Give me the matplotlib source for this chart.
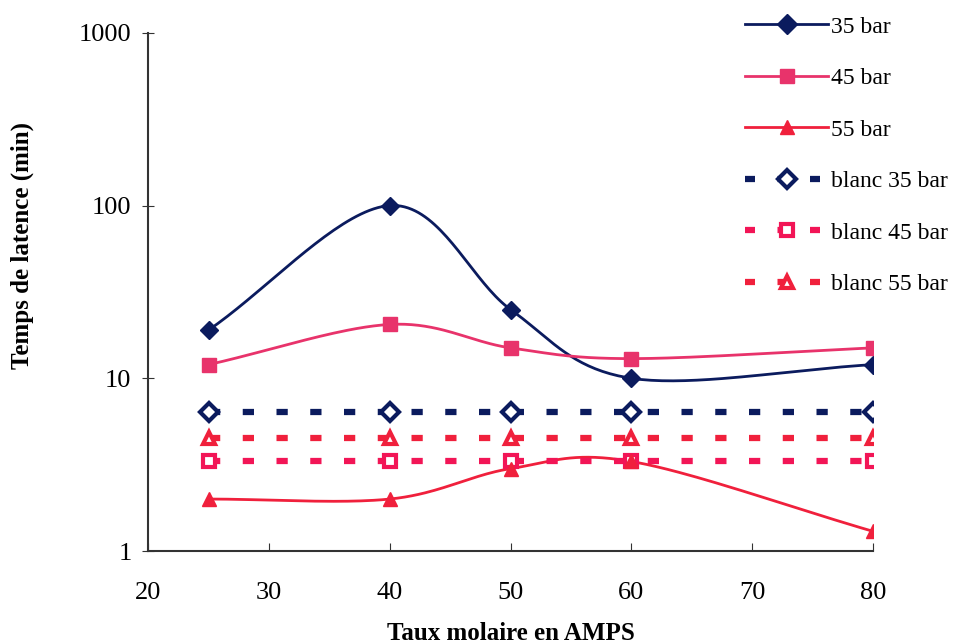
import numpy as np
import matplotlib
matplotlib.use('Agg')
import matplotlib.pyplot as plt
from matplotlib.ticker import FixedLocator, FixedFormatter, NullLocator

plt.rcParams['font.family'] = ['Liberation Serif', 'DejaVu Serif']

x = [25, 40, 50, 60, 80]
bar35 = [19, 100, 25, 10, 12]
bar45 = [12, 20.5, 15, 13, 15]
bar55 = [2.0, 2.0, 3.0, 3.3, 1.3]
blanc35 = [6.4, 6.4, 6.4, 6.4, 6.4]
blanc45 = [3.3, 3.3, 3.3, 3.3, 3.3]
blanc55 = [4.5, 4.5, 4.5, 4.5, 4.5]

yticks = [1, 10, 100, 1000]
ytick_labels = ['1', '10', '100', '1000']
xticks = [20, 30, 40, 50, 60, 70, 80]

navy = '#0b1b5e'
pink = '#e8336b'
red = '#f0203c'
pink2 = '#f21556'


def smooth(xs, ys, n=40):
    # Catmull-Rom in roughly screen-scaled (x, log y) space, like Excel smoothed lines
    sx = 12.08
    sy = 172.7
    P = np.column_stack([np.array(xs, float) * sx, np.log10(ys) * sy])
    P = np.vstack([2 * P[0] - P[1], P, 2 * P[-1] - P[-2]])
    out = []
    for i in range(1, len(P) - 2):
        p0, p1, p2, p3 = P[i - 1], P[i], P[i + 1], P[i + 2]
        t = np.linspace(0, 1, n)[:, None]
        c = 0.5 * ((2 * p1) + (-p0 + p2) * t + (2 * p0 - 5 * p1 + 4 * p2 - p3) * t ** 2
                   + (-p0 + 3 * p1 - 3 * p2 + p3) * t ** 3)
        out.append(c)
    c = np.vstack(out)
    return c[:, 0] / sx, 10 ** (c[:, 1] / sy)


fig = plt.figure(figsize=(9.68, 6.43), dpi=100)
ax = fig.add_axes([0.153, 0.143, 0.749, 0.806])
ax.set_yscale('log')

h = []
for ys, col, mk, lab in [(bar35, navy, 'D', '35 bar'), (bar45, pink, 's', '45 bar'),
                         (bar55, red, '^', '55 bar')]:
    sxs, sys_ = smooth(x, ys)
    ax.plot(sxs, sys_, color=col, lw=2, zorder=3)
    ax.plot(x, ys, ls='none', marker=mk, color=col, ms=10 if mk != 'D' else 9, zorder=4)
    h.append(plt.Line2D([], [], color=col, lw=2, marker=mk, ms=10, label=lab))

for ys, col, mk, lab in [(blanc35, navy, 'D', 'blanc 35 bar'), (blanc45, pink2, 's', 'blanc 45 bar'),
                         (blanc55, red, '^', 'blanc 55 bar')]:
    ax.plot(x, ys, color=col, lw=4.5, ls=(0, (1.8, 3.6)), marker=mk, ms=9,
            mfc='white', mec=col, mew=3, zorder=3)
    h.append(plt.Line2D([], [], color=col, lw=4.5, ls=(0, (1.6, 3.6)), marker=mk, ms=9,
                        mfc='white', mec=col, mew=3, label=lab))

ax.set_xlim(20, 80)
ax.set_ylim(1, 1000)
ax.xaxis.set_major_locator(FixedLocator(xticks))
ax.yaxis.set_major_locator(FixedLocator(yticks))
ax.yaxis.set_major_formatter(FixedFormatter(ytick_labels))
ax.yaxis.set_minor_locator(NullLocator())
ax.tick_params(axis='x', direction='in', length=6, labelsize=19, pad=22, color='#333333')
ax.tick_params(axis='y', direction='inout', length=8, labelsize=19, pad=8, color='#333333')
for s in ['top', 'right']:
    ax.spines[s].set_visible(False)
for s in ['left', 'bottom']:
    ax.spines[s].set_color('#333333')
    ax.spines[s].set_linewidth(1.5)

ax.set_xlabel('Taux molaire en AMPS', fontsize=18, fontweight='bold', labelpad=13)
ax.set_ylabel('Temps de latence (min)', fontsize=18, fontweight='bold')
ax.yaxis.set_label_coords(-0.158, 0.59)

fig.legend(handles=h, loc='upper left', bbox_to_anchor=(0.748, 1.008), frameon=False,
           fontsize=17, handlelength=3.5, handletextpad=0.12, labelspacing=1.27)

fig.savefig('out.png', dpi=100, facecolor='white')
